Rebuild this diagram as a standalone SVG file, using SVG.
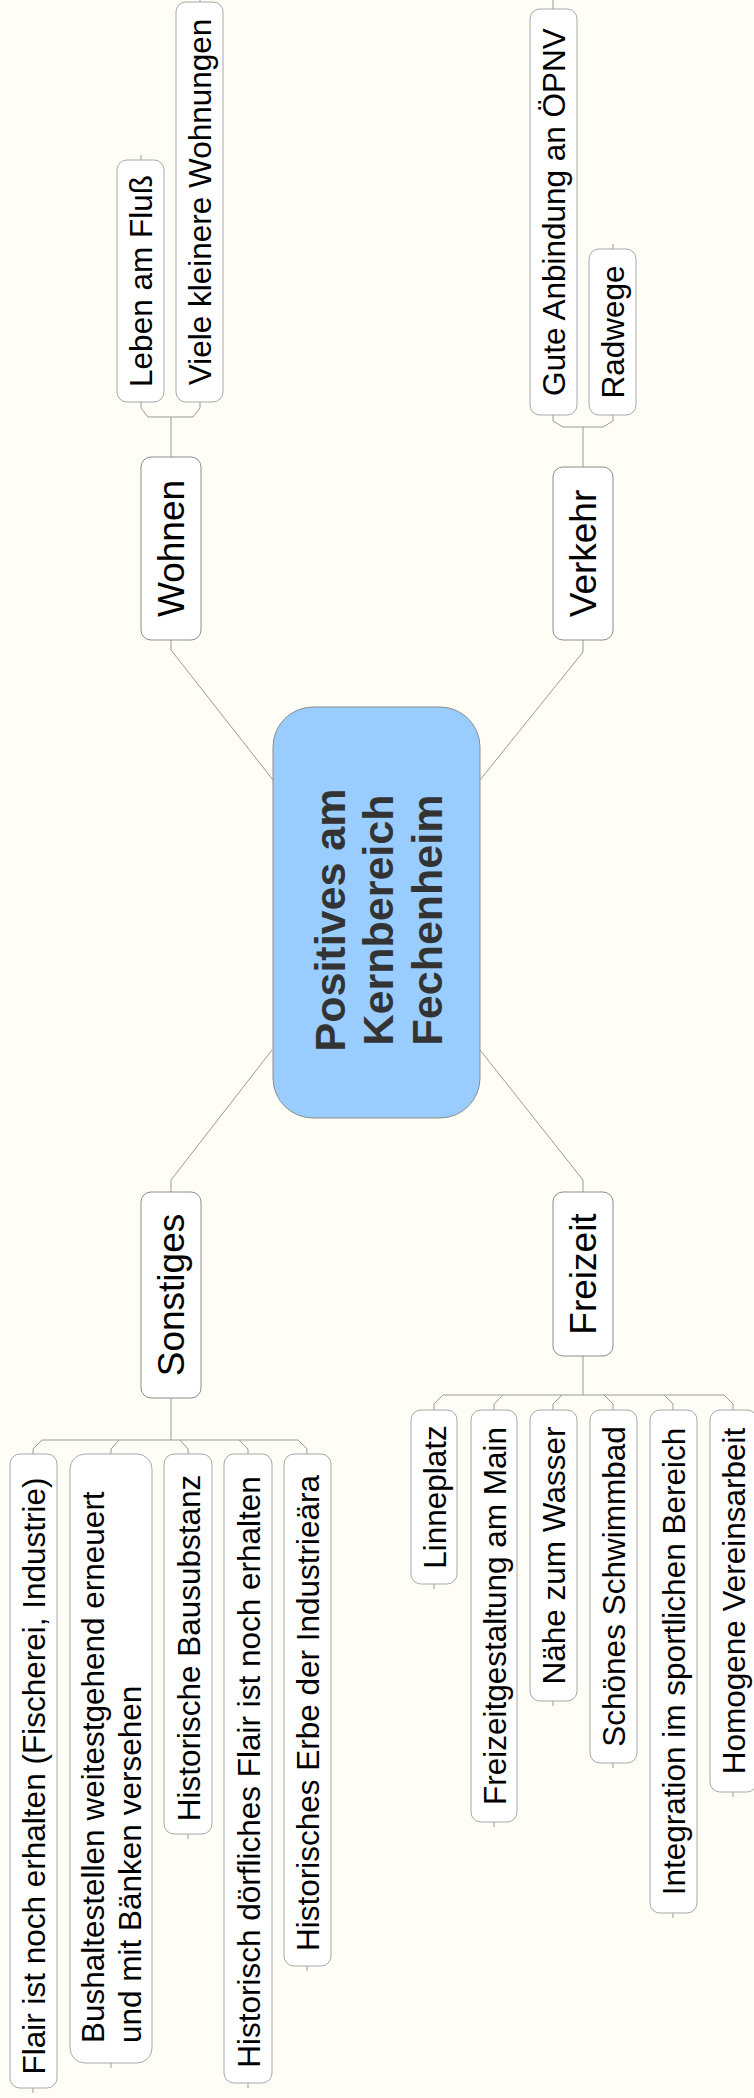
<svg xmlns="http://www.w3.org/2000/svg" width="754" height="2098" viewBox="0 0 754 2098">
<style>
.bg{fill:#fefef6}
.leaf{fill:#ffffff;stroke:#a8a8a8;stroke-width:1}
.branch{fill:#ffffff;stroke:#8c8c8c;stroke-width:1}
.root{fill:#99ccff;stroke:#8c8c8c;stroke-width:1}
.conn{fill:none;stroke:#999999;stroke-width:1}
.lt{font-family:"Liberation Sans",Arial,sans-serif;font-size:31.5px;fill:#000;text-anchor:middle}
.ls{font-family:"Liberation Sans",Arial,sans-serif;font-size:31.5px;fill:#000;text-anchor:start}
.bt{font-family:"Liberation Sans",Arial,sans-serif;font-size:37px;fill:#000;text-anchor:middle}
.rt{font-family:"Liberation Sans",Arial,sans-serif;font-size:43px;font-weight:bold;fill:#333333;text-anchor:middle}
</style>
<rect class="bg" x="0" y="0" width="754" height="2098"/>
<g id="connectors">
<polyline class="conn" points="171,640 171,650 273,780"/>
<polyline class="conn" points="583,640 583,652 480,780"/>
<polyline class="conn" points="272,1050 171,1180 171,1192"/>
<polyline class="conn" points="480,1050 583,1180 583,1192"/>
<path class="conn" d="M171,457 V417 M148,417 H193 M148,417 L141,408 V402 M193,417 L200,408 V402 M141,160 V155 M200,2 V0"/>
<path class="conn" d="M583,467 V427 M563,427 H603 M563,427 L553,421 V415 M603,427 L613,421 V415 M553,9 V0 M613,249 V244"/>
<path class="conn" d="M171,1398 V1440 M42,1440 H298 M42,1440 L33,1449 V1454 M119,1440 L111,1449 V1454 M180,1440 L188,1449 V1454 M239,1440 L248,1449 V1454 M298,1440 L307,1449 V1454 M33,2088 V2093 M111,2063 V2068 M188,1834 V1839 M248,2083 V2088 M307,1966 V1971"/>
<path class="conn" d="M583,1356 V1395 M443,1395 H724 M443,1395 L434,1404 V1410 M503,1395 L494,1404 V1410 M562,1395 L553,1404 V1410 M604,1395 L613,1404 V1410 M664,1395 L673,1404 V1410 M724,1395 L733,1404 V1410 M434,1584 V1589 M494,1822 V1827 M553,1701 V1706 M613,1763 V1768 M673,1913 V1918 M733,1792 V1797"/>
</g>
<g id="root">
<rect class="root" x="273" y="707" width="207" height="411" rx="40" ry="40"/>
<text class="rt" transform="translate(345,920) rotate(-90)">Positives am</text>
<text class="rt" transform="translate(393,920) rotate(-90)">Kernbereich</text>
<text class="rt" transform="translate(442,920) rotate(-90)">Fechenheim</text>
</g>
<g id="wohnen">
<rect class="branch" x="141" y="457" width="60" height="183" rx="10"/>
<text class="bt" transform="translate(184,548.5) rotate(-90)">Wohnen</text>
</g>
<g id="verkehr">
<rect class="branch" x="553" y="467" width="60" height="173" rx="10"/>
<text class="bt" transform="translate(596,553.5) rotate(-90)">Verkehr</text>
</g>
<g id="sonstiges">
<rect class="branch" x="141" y="1192" width="60" height="206" rx="10"/>
<text class="bt" transform="translate(184,1295) rotate(-90)">Sonstiges</text>
</g>
<g id="freizeit">
<rect class="branch" x="553" y="1192" width="60" height="164" rx="10"/>
<text class="bt" transform="translate(596,1274) rotate(-90)">Freizeit</text>
</g>
<g id="leben">
<rect class="leaf" x="117" y="160" width="47" height="242" rx="10"/>
<text class="lt" transform="translate(152,281) rotate(-90)">Leben am Fluß</text>
</g>
<g id="viele">
<rect class="leaf" x="176" y="2" width="47" height="400" rx="10"/>
<text class="lt" transform="translate(211,202) rotate(-90)">Viele kleinere Wohnungen</text>
</g>
<g id="gute">
<rect class="leaf" x="530" y="9" width="47" height="406" rx="10"/>
<text class="lt" transform="translate(565,212) rotate(-90)">Gute Anbindung an ÖPNV</text>
</g>
<g id="radwege">
<rect class="leaf" x="589" y="249" width="47" height="166" rx="10"/>
<text class="lt" transform="translate(624,332) rotate(-90)">Radwege</text>
</g>
<g id="flair">
<rect class="leaf" x="10" y="1454" width="47" height="634" rx="10"/>
<text class="lt" transform="translate(45,1776) rotate(-90)">Flair ist noch erhalten (Fischerei, Industrie)</text>
</g>
<g id="bushalt">
<rect class="leaf" x="70" y="1454" width="82" height="609" rx="15"/>
<text class="ls" transform="translate(104,2043) rotate(-90)">Bushaltestellen weitestgehend erneuert</text>
<text class="ls" transform="translate(141,2043) rotate(-90)">und mit Bänken versehen</text>
</g>
<g id="histbau">
<rect class="leaf" x="164" y="1454" width="48" height="380" rx="10"/>
<text class="lt" transform="translate(199.5,1648) rotate(-90)">Historische Bausubstanz</text>
</g>
<g id="histdoerf">
<rect class="leaf" x="224" y="1454" width="48" height="629" rx="10"/>
<text class="lt" transform="translate(259.5,1772) rotate(-90)">Historisch dörfliches Flair ist noch erhalten</text>
</g>
<g id="histerbe">
<rect class="leaf" x="284" y="1454" width="47" height="512" rx="10"/>
<text class="lt" transform="translate(319,1713) rotate(-90)">Historisches Erbe der Industrieära</text>
</g>
<g id="linneplatz">
<rect class="leaf" x="411" y="1410" width="46" height="174" rx="10"/>
<text class="lt" transform="translate(445.5,1497) rotate(-90)">Linneplatz</text>
</g>
<g id="freizeitgestaltung">
<rect class="leaf" x="471" y="1410" width="46" height="412" rx="10"/>
<text class="lt" transform="translate(505.5,1616) rotate(-90)">Freizeitgestaltung am Main</text>
</g>
<g id="naehe">
<rect class="leaf" x="530" y="1410" width="47" height="291" rx="10"/>
<text class="lt" transform="translate(565,1555.5) rotate(-90)">Nähe zum Wasser</text>
</g>
<g id="schwimmbad">
<rect class="leaf" x="590" y="1410" width="47" height="353" rx="10"/>
<text class="lt" transform="translate(625,1586.5) rotate(-90)">Schönes Schwimmbad</text>
</g>
<g id="integration">
<rect class="leaf" x="650" y="1410" width="47" height="503" rx="10"/>
<text class="lt" transform="translate(685,1661.5) rotate(-90)">Integration im sportlichen Bereich</text>
</g>
<g id="homogene">
<rect class="leaf" x="710" y="1410" width="47" height="382" rx="10"/>
<text class="lt" transform="translate(745,1601) rotate(-90)">Homogene Vereinsarbeit</text>
</g>
</svg>
